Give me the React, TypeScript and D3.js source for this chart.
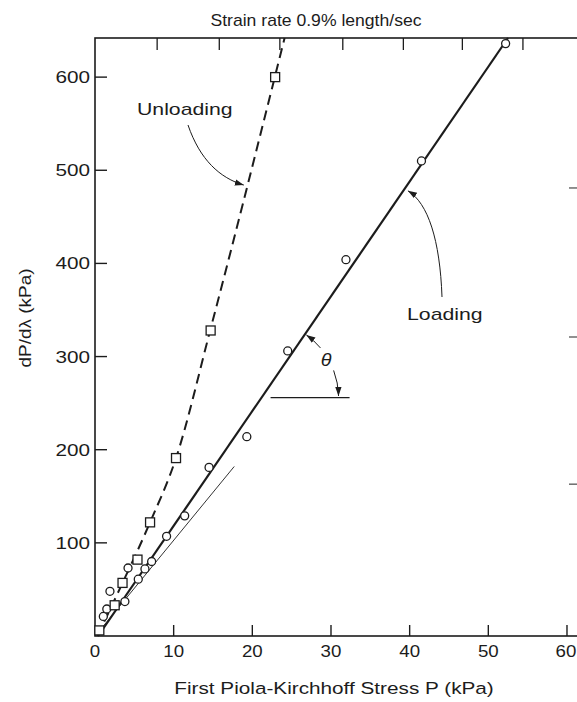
import * as d3 from 'd3'

// axis ticks
const xTicks = [0, 10, 20, 30, 40, 50, 60]
const yTicks = [100, 200, 300, 400, 500, 600]
const topTicks = [7.9, 15.8, 23.5, 31.5, 39.2, 46.7, 54.4] // unlabelled ticks on the top edge
const rightTicks = [163, 321, 481] // unlabelled ticks on the right edge

// loading (circles)
const loadingP = [1.06, 1.5, 1.9, 3.8, 4.2, 5.5, 6.35, 7.2, 9.1, 11.4, 14.5, 19.3, 24.5, 31.9, 41.5, 52.2]
const loadingD = [21, 29, 48, 37, 73, 61, 72, 80, 107, 129, 181, 214, 306, 404, 510, 636]

// unloading (squares)
const unloadingP = [0.55, 2.5, 3.5, 5.4, 7.0, 10.3, 14.7, 22.9]
const unloadingD = [6, 33, 57, 82, 122, 191, 328, 600]

// fitted lines
const loadingFitP = [0.4, 52.5]
const loadingFitD = [0, 642]
const tangentP = [0.8, 17.7]
const tangentD = [8, 182]
const unloadingFitP = [0.3, 3.5, 7.0, 10.3, 14.7, 24.1]
const unloadingFitD = [0, 57, 122, 191, 330, 642]

const W = 577
const H = 702
const font = '"Liberation Sans", Arial, Helvetica, sans-serif'
const ink = '#1c1c1c'

// the scanned lettering is wider than Arial, so stretch it sideways
function T({ x, y, size, sx = 1.22, anchor = 'start', rotate = 0, italic = false, children }: any) {
  return (
    <g transform={`translate(${x},${y}) rotate(${rotate}) scale(${sx},1)`}>
      <text textAnchor={anchor} fontSize={size} fontStyle={italic ? 'italic' : 'normal'} fill={ink}>{children}</text>
    </g>
  )
}

export default function App() {
  const x = d3.scaleLinear().domain([0, 61.4]).range([95, 578])
  const y = d3.scaleLinear().domain([0, 642]).range([636, 38])
  const [x0, x1] = x.range()
  const [yb, yt] = y.range()

  const line = d3.line<[number, number]>().x(d => x(d[0])).y(d => y(d[1]))
  const curve = d3.line<[number, number]>().x(d => x(d[0])).y(d => y(d[1])).curve(d3.curveMonotoneX)

  const zip = (a: number[], b: number[]) => a.map((v, i) => [v, b[i]] as [number, number])

  // theta construction: horizontal through the loading line at dP/dλ = 256
  const thetaD = 256
  const slope = (loadingFitD[1] - loadingFitD[0]) / (loadingFitP[1] - loadingFitP[0])
  const cx = x(loadingFitP[0] + thetaD / slope)
  const cy = y(thetaD)
  const ang = Math.atan2(y(0) - y(slope), x(1) - x(0)) // screen angle of the line
  const r = 77
  const arcUp = d3.path()
  arcUp.arc(cx, cy, r, -0.70, -ang + 0.02, true)
  const arcDown = d3.path()
  arcDown.arc(cx, cy, r, -0.36, -0.02, false)

  // unloading arrow end on the dashed curve
  const ua = { x: x(19.3), y: y(483) }
  // loading arrow end on the solid line
  const laD = 479
  const la = { x: x(loadingFitP[0] + laD / slope) + 2, y: y(laD) }

  return (
    <svg width={W} height={H} style={{ position: 'absolute', left: 0, top: 0, background: '#fff' }}
      fontFamily={font}>
      <defs>
        <marker id="ah" viewBox="0 0 10 10" refX="10" refY="5" markerWidth="9" markerHeight="9"
          markerUnits="userSpaceOnUse" orient="auto">
          <path d="M0,1.5 L10,5 L0,8.5 Z" fill={ink} />
        </marker>
      </defs>

      <T x={316} y={26} size={16} sx={1.1} anchor="middle">Strain rate 0.9% length/sec</T>

      {/* frame */}
      <rect x={x0} y={yt} width={x1 - x0} height={yb - yt} fill="none" stroke={ink} strokeWidth={1.6} />

      {/* bottom axis */}
      {xTicks.map(t => (
        <g key={'xb' + t}>
          {t > 0 && <line x1={x(t)} x2={x(t)} y1={yb} y2={yb - 11} stroke={ink} strokeWidth={1.4} />}
          <T x={t === 60 ? x(t) - 1 : x(t)} y={yb + 21} size={17} sx={1.1} anchor="middle">{t}</T>
        </g>
      ))}
      {topTicks.map(t => (
        <line key={'xt' + t} x1={x(t)} x2={x(t)} y1={yt} y2={yt + 12} stroke={ink} strokeWidth={1.3} />
      ))}
      {yTicks.map(t => (
        <g key={'yl' + t}>
          <line x1={x0} x2={x0 + 12} y1={y(t)} y2={y(t)} stroke={ink} strokeWidth={1.4} />
          <T x={x0 - 5} y={y(t) + 6} size={17} anchor="end">{t}</T>
        </g>
      ))}
      {rightTicks.map(t => (
        <line key={'yr' + t} x1={x1} x2={x1 - 9} y1={y(t)} y2={y(t)} stroke="#555" strokeWidth={1.3} />
      ))}

      <T x={334} y={694} size={17} anchor="middle">First Piola-Kirchhoff Stress P (kPa)</T>
      <T x={31} y={318} size={16.5} sx={1.15} rotate={-90} anchor="middle">dP/dλ  (kPa)</T>

      {/* fitted lines */}
      <path d={line(zip(tangentP, tangentD)) || ''} fill="none" stroke={ink} strokeWidth={0.9} />
      <path d={line(zip(loadingFitP, loadingFitD)) || ''} fill="none" stroke={ink} strokeWidth={2.2} />
      <path d={curve(zip(unloadingFitP, unloadingFitD)) || ''} fill="none" stroke={ink} strokeWidth={2}
        strokeDasharray="10 6" />

      {/* markers */}
      {loadingP.map((p, i) => (
        <circle key={'c' + i} cx={x(p)} cy={y(loadingD[i])} r={4} fill="#fff" stroke={ink} strokeWidth={1.3} />
      ))}
      {unloadingP.map((p, i) => (
        <rect key={'s' + i} x={x(p) - 4.5} y={y(unloadingD[i]) - 4.5} width={9} height={9}
          fill="#fff" stroke={ink} strokeWidth={1.3} />
      ))}

      {/* annotations */}
      <T x={137} y={115} size={17} sx={1.25}>Unloading</T>
      <path d={`M188,125 C200,160 220,178 ${ua.x - 3},${ua.y - 1}`} fill="none" stroke={ink}
        strokeWidth={1} markerEnd="url(#ah)" />

      <T x={407} y={320} size={17} sx={1.25}>Loading</T>
      <path d={`M442,297 C440,240 428,203 ${la.x + 2},${la.y + 1}`} fill="none" stroke={ink}
        strokeWidth={1} markerEnd="url(#ah)" />

      <line x1={cx + 9} x2={cx + 88} y1={cy} y2={cy} stroke={ink} strokeWidth={1.2} />
      <path d={arcUp.toString()} fill="none" stroke={ink} strokeWidth={1} markerEnd="url(#ah)" />
      <path d={arcDown.toString()} fill="none" stroke={ink} strokeWidth={1} markerEnd="url(#ah)" />
      <T x={cx + r * Math.cos(0.53) - 2} y={cy - r * Math.sin(0.53) + 7} size={18} sx={1.1} anchor="middle" italic>θ</T>
    </svg>
  )
}
